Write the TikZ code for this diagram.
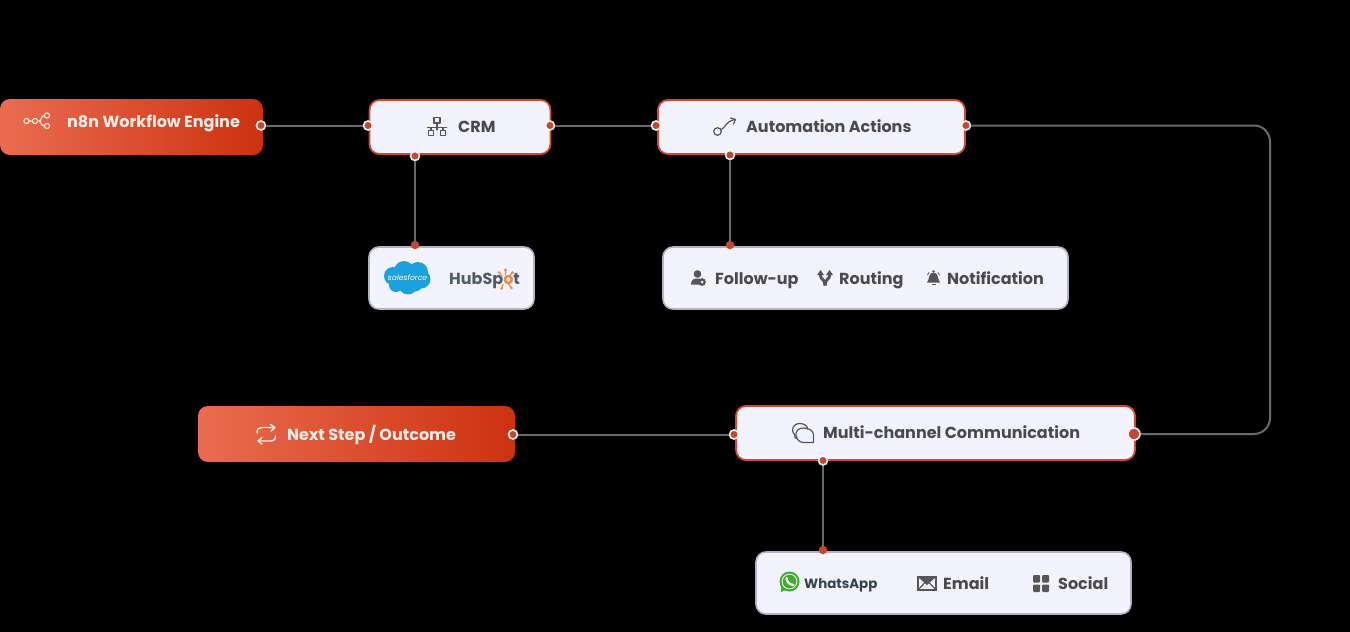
\documentclass[tikz,border=0pt]{standalone}
\usepackage{fontspec}
\setmainfont{Poppins}
\newfontfamily\medfont{Poppins Medium}
\usetikzlibrary{arrows.meta}
\definecolor{pagebg}{HTML}{000000}
\definecolor{boxfill}{HTML}{F3F3FD}
\definecolor{redline}{HTML}{D2492F}
\definecolor{greyline}{HTML}{B4B4C0}
\definecolor{wire}{HTML}{6A6A6A}
\definecolor{portred}{HTML}{C0492F}
\definecolor{inktext}{HTML}{4A4A4E}
\definecolor{iconink}{HTML}{55555A}
\definecolor{gradL}{HTML}{EA6C50}
\definecolor{gradR}{HTML}{CC3210}
\definecolor{paper}{HTML}{FBEDE8}
\definecolor{sfblue}{HTML}{1CA1DC}
\definecolor{hubgrey}{HTML}{4F5B69}
\definecolor{huborange}{HTML}{EE8A45}
\definecolor{wagreen}{HTML}{3DAE2B}
\definecolor{watext}{HTML}{2F4550}
\tikzset{
  x=1pt,y=-1pt,
  hotbox/.style={rectangle,rounded corners=10pt,left color=gradL,right color=gradR,inner sep=0pt,minimum width=#1,minimum height=56pt},
  mainbox/.style={rectangle,rounded corners=10pt,fill=boxfill,draw=redline,line width=1.8pt,inner sep=0pt,minimum width=#1,minimum height=54pt},
  subbox/.style={rectangle,rounded corners=10pt,fill=boxfill,draw=greyline,line width=1.6pt,inner sep=0pt,minimum width=#1,minimum height=62pt},
  portring/.style={circle,fill=portred,draw=boxfill,line width=1.6pt,inner sep=0pt,minimum size=9pt},
  portdot/.style={circle,fill=portred,inner sep=0pt,minimum size=8.5pt},
  wireline/.style={draw=wire,line width=2pt},
  hottext/.style={anchor=base west,inner sep=0pt,text=paper,font=\fontsize{16}{16}\selectfont\bfseries},
  maintext/.style={anchor=base west,inner sep=0pt,text=inktext,font=\fontsize{16}{16}\selectfont\bfseries},
  hicon/.style={draw=paper,line width=1.4pt,line cap=round,line join=round},
  micon/.style={draw=iconink,line width=1.2pt,line cap=round,line join=round},
  ficon/.style={fill=iconink},
}
\begin{document}
\begin{tikzpicture}
\useasboundingbox (0,0) rectangle (1350,632);
\fill[pagebg] (0,0) rectangle (1350,632);

% boxes
\node[hotbox=263pt] (engine) at (131.5,127) {};
\node[mainbox=181pt] (crm) at (460,127) {};
\node[mainbox=307pt] (auto) at (811.5,127) {};
\node[subbox=165pt] (crmtools) at (451.5,278) {};
\node[subbox=405pt] (actions) at (865.5,278) {};
\node[hotbox=317pt] (outcome) at (356.5,434) {};
\node[mainbox=399pt] (multi) at (935.5,433) {};
\node[subbox=375pt] (channels) at (943.5,583) {};

% ports
\node[portring] (engineR) at (261,125.5) {};
\node[portring] (crmL) at (368,125.5) {};
\node[portring] (crmR) at (550,125.5) {};
\node[portring] (crmB) at (415,156) {};
\node[portdot] (toolsT) at (415,245) {};
\node[portring] (autoL) at (656,125.5) {};
\node[portring] (autoR) at (966,125.5) {};
\node[portring] (autoB) at (730,155) {};
\node[portdot] (actionsT) at (730,245) {};
\node[portring] (outcomeR) at (513,434.5) {};
\node[portring] (multiL) at (734,434.5) {};
\node[portring,minimum size=12pt] (multiR) at (1134,434) {};
\node[portring] (multiB) at (823,460.5) {};
\node[portdot] (channelsT) at (823,550) {};
\coordinate (bendA) at (1270,125.5);
\coordinate (bendB) at (1270,434);

% connectors
\draw[wireline] (engineR) -- (crmL);
\draw[wireline] (crmR) -- (autoL);
\draw[wireline] (crmB) -- (toolsT);
\draw[wireline] (autoB) -- (actionsT);
\draw[wireline,rounded corners=16pt] (autoR) -- (bendA) -- (bendB) -- (multiR);
\draw[wireline] (multiL) -- (outcomeR);
\draw[wireline] (multiB) -- (channelsT);

% texts
\node[hottext] (t1) at (67,127) {n8n Workflow Engine};
\node[maintext] (t2) at (458,132.5) {CRM};
\node[maintext] (t3) at (746,132.5) {Automation Actions};
\node[maintext] (t4) at (715,284) {Follow-up};
\node[maintext] (t5) at (839,284) {Routing};
\node[maintext] (t6) at (947,284) {Notification};
\node[hottext] (t7) at (287,440) {Next Step / Outcome};
\node[maintext] (t8) at (823,438.5) {Multi-channel Communication};
\node[anchor=base west,inner sep=0pt,text=watext,font=\fontsize{13.4}{14}\selectfont\bfseries] (t9) at (804,588.5) {WhatsApp};
\node[maintext] (t10) at (943,589) {Email};
\node[maintext] (t11) at (1058,589) {Social};

% n8n icon
\draw[hicon,line width=1.1pt] (26.5,121) circle (2.6) (35,121) circle (2.6) (47,115.5) circle (2.6) (47,126) circle (2.6);
\draw[hicon,line width=1.1pt] (29,121) -- (32.5,121) (37.5,121) -- (39,121) .. controls (42,121) and (40.5,115.5) .. (44.4,115.5) (39,121) .. controls (41,121) and (41,126) .. (44.4,126);

% CRM icon
\draw[micon] (434,117.5) rectangle (440,123) (437,123) -- (437,130) (427.5,127.5) -- (446.5,127.5)
  (431,127.5) -- (431,130.5) (443,127.5) -- (443,130.5) (428.5,130.5) rectangle (433.5,135.5) (440.5,130.5) rectangle (445.5,135.5);

% automation icon
\draw[micon] (717.5,131.5) circle (3.8);
\draw[micon] (721,129.5) .. controls (726,128) and (724,122) .. (735,119.5);
\draw[micon] (730.5,118) -- (735.5,119.5) -- (733.5,124);

% follow-up icon
\fill[ficon] (697.5,274) circle (3.8);
\fill[ficon] (691,284.5) .. controls (691,279.5) and (694,278.5) .. (697.5,278.5) .. controls (701,278.5) and (702,280) .. (702,280) -- (700,284.5) -- cycle;
\fill[ficon] (702,282) circle (3.9);
\fill[boxfill] (702,282) circle (1.5);

% routing icon
\draw[draw=iconink,line width=3pt,line join=miter] (820.5,274) -- (820.5,276) .. controls (820.5,279) and (825,279) .. (825,285.5);
\draw[draw=iconink,line width=3pt,line join=miter] (829.5,274) -- (829.5,276) .. controls (829.5,279) and (825,279) .. (825,285.5);
\fill[ficon] (817,275) -- (820.5,270) -- (824,275) -- cycle (826,275) -- (829.5,270) -- (833,275) -- cycle;

% bell icon
\fill[ficon] (933.5,271.5) circle (1.4);
\fill[ficon] (927,282.5) .. controls (929.5,280) and (928,272.5) .. (933.5,272.5) .. controls (939,272.5) and (937.5,280) .. (940,282.5) -- cycle;
\fill[ficon] (931.5,284) -- (935.5,284) -- (935.5,285.2) -- (931.5,285.2) -- cycle;
\draw[micon,line width=.8pt] (927.5,275) -- (929,272.5) (939.5,275) -- (938,272.5);

% repeat icon
\draw[hicon] (257,433) .. controls (257,429) and (259,427.5) .. (262,427.5) -- (275,427.5) (270.5,424.5) -- (275,427.5) -- (271,431);
\draw[hicon] (275.5,436) .. controls (275.5,440) and (273.5,441) .. (270,441) -- (258,441) (262,437.5) -- (258,441) -- (262,444);

% chat icon
\draw[micon,fill=none] (797.5,438) -- (795,438) -- (795,435) .. controls (790,430) and (793,423.5) .. (800,423.5) .. controls (805,423.5) and (808,427) .. (807.5,429);
\draw[micon] (803.5,428) .. controls (798,428) and (795.5,431.5) .. (796,435.5) .. controls (796.5,440) and (800,442.5) .. (804,442.5) -- (813.5,442.5) -- (813.5,435) .. controls (813.5,431) and (809.5,428) .. (803.5,428) -- cycle;

% salesforce cloud
\fill[sfblue] (393,276) circle (9) (404,271) circle (10) (418,272) circle (10) (421,279) circle (9.5) (408,285) circle (9.5) (396,285) circle (7) (415,284) circle (7.5) (404,278) circle (9);
\node[inner sep=0pt,text=white,font=\fontsize{7.6}{8}\selectfont\itshape] (sf) at (407.5,277.5) {salesforce};

% hubspot
\node[anchor=base west,inner sep=0pt,font=\fontsize{16}{17}\selectfont\bfseries,text=hubgrey] (hub) at (449,284.5) {HubSp\textcolor{huborange}{o}t};
\draw[huborange,line width=1.2pt,line cap=round] (505.5,275) -- (505.5,270.5) (502,276.5) -- (499.5,273) (509,276.5) -- (512,273) (508.5,284) -- (511,287.5) (503,284.5) -- (502,288);
\fill[huborange] (505.5,270) circle (1.6) (499,272.5) circle (1.3) (512.5,272.5) circle (1.4) (511.5,288) circle (1.3) (501.5,288.5) circle (1.3);

% whatsapp
\fill[wagreen] (789.5,581.5) circle (10);
\fill[wagreen] (780.5,592) -- (782,584) -- (786,590) -- cycle;
\fill[white] (789.5,581.5) circle (7.8);
\fill[wagreen] (789.5,581.5) circle (6.9);
\draw[white,line width=2.2pt,line cap=round] (786.5,577.8) .. controls (786.5,581.5) and (789,584.5) .. (793.5,585);

% email icon
\draw[draw=iconink,line width=1.7pt,line join=miter] (918,577) rectangle (936,590);
\fill[ficon] (918,577) -- (936,577) -- (927,585) -- cycle;
\draw[iconink,line width=1.2pt] (918,590) -- (925,582.5) (936,590) -- (929,582.5);

% social icon
\fill[ficon,rounded corners=1pt] (1033,575) rectangle (1040,582.5) (1042,575) rectangle (1049,582.5) (1033,584.5) rectangle (1040,592) (1042,584.5) rectangle (1049,592);
\end{tikzpicture}
\end{document}
